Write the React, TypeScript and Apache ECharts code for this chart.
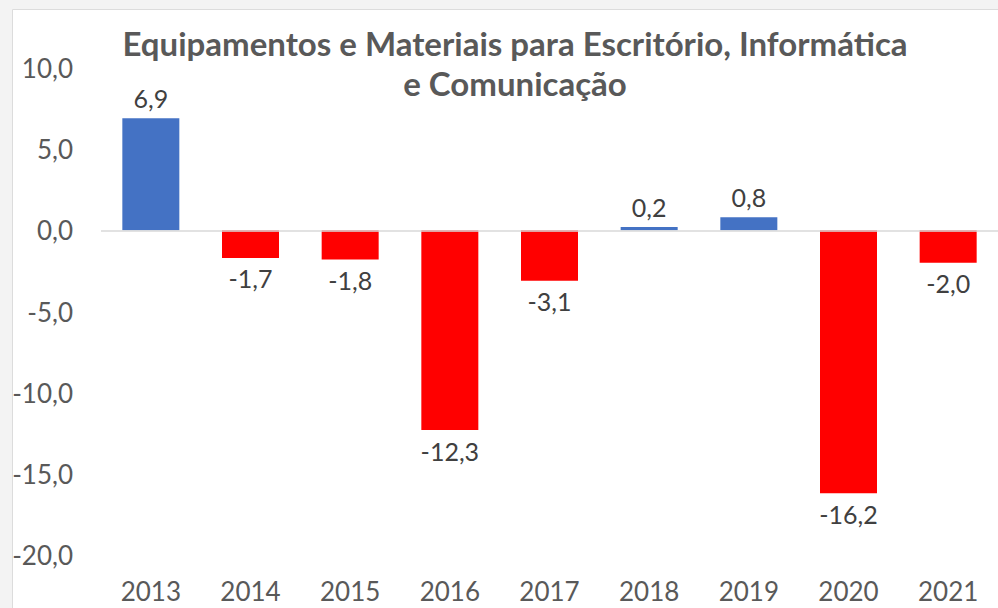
import React, { useEffect, useRef } from "react";
import * as echarts from "echarts";

const categories = ["2013", "2014", "2015", "2016", "2017", "2018", "2019", "2020", "2021"];
const values = [6.9, -1.7, -1.8, -12.3, -3.1, 0.2, 0.8, -16.2, -2.0];
const titleText = "Equipamentos e Materiais para Escritório, Informática\ne Comunicação";

const fmt = (v: number) => v.toFixed(1).replace(".", ",");

export default function App() {
  const ref = useRef<HTMLDivElement>(null);
  useEffect(() => {
    const chart = echarts.init(ref.current!, null, { renderer: "svg" });
    const font = "Lato, 'Open Sans', sans-serif";
    chart.setOption({
      animation: false,
      backgroundColor: "#f3f3f3",
      textStyle: { fontFamily: font },
      graphic: [
        {
          type: "rect",
          z: -10,
          shape: { x: 12.5, y: 9.5, width: 990, height: 610 },
          style: { fill: "#ffffff", stroke: "#dcdcdc", lineWidth: 1 },
        },
      ],
      title: {
        text: titleText,
        left: 510,
        top: 18,
        textAlign: "center",
        textStyle: {
          fontFamily: font,
          fontWeight: "bold",
          fontSize: 33,
          lineHeight: 40,
          color: "#595959",
        },
      },
      grid: { left: 101, top: 68, width: 910, height: 487, containLabel: false },
      xAxis: {
        type: "category",
        data: categories,
        axisLine: { show: false, onZero: false },
        axisTick: { show: false },
        axisLabel: { color: "#595959", fontSize: 26, margin: 23, fontFamily: font },
      },
      yAxis: {
        type: "value",
        min: -20,
        max: 10,
        interval: 5,
        axisLine: { show: false },
        axisTick: { show: false },
        splitLine: { show: false },
        axisLabel: { color: "#595959", fontSize: 26, margin: 28, fontFamily: font, formatter: (v: number) => fmt(v) },
      },
      series: [
        {
          type: "bar",
          barWidth: 57,
          data: values.map((v) => ({
            value: v,
            itemStyle: { color: v >= 0 ? "#4472C4" : "#FF0000" },
            label: { position: v >= 0 ? "top" : "bottom" },
          })),
          label: {
            show: true,
            distance: 8,
            color: "#404040",
            fontSize: 25,
            fontFamily: font,
            formatter: (p: any) => fmt(p.value),
          },
          markLine: {
            silent: true,
            symbol: "none",
            label: { show: false },
            lineStyle: { color: "#d9d9d9", type: "solid", width: 1.5 },
            data: [{ yAxis: 0 }],
          },
        },
      ],
    });
    return () => chart.dispose();
  }, []);
  return (
    <div style={{ position: "fixed", left: 0, top: 0, width: 998, height: 608 }}>
      <div ref={ref} style={{ width: 998, height: 608 }} />
    </div>
  );
}
